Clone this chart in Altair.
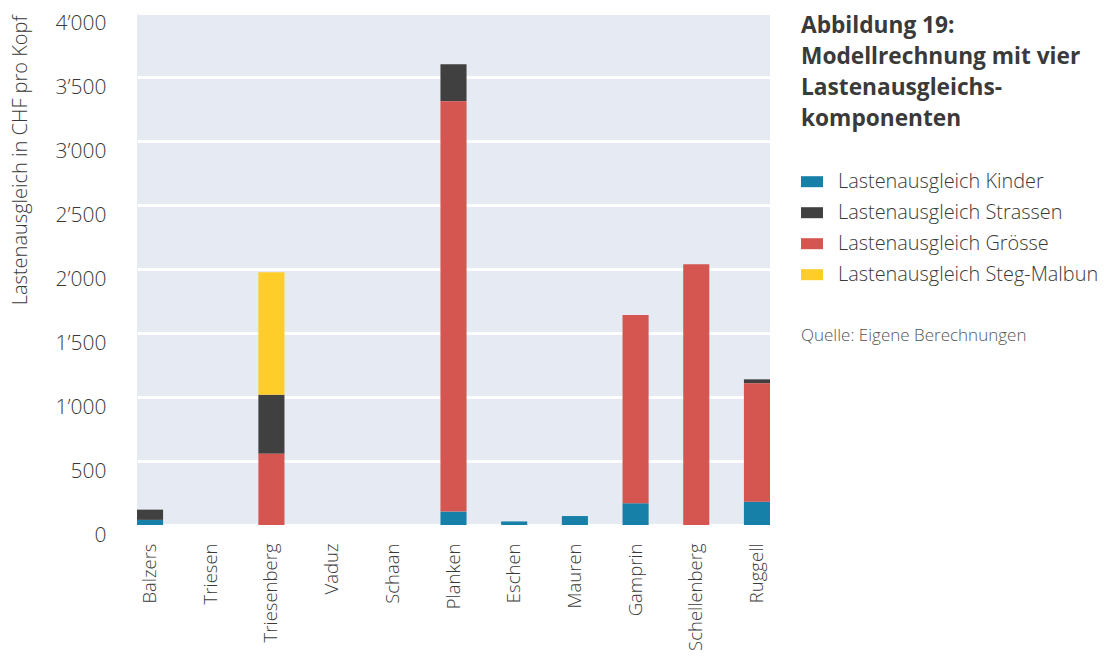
import altair as alt
import pandas as pd

# Gemeinden (x categories)
gemeinden = ["Balzers", "Triesen", "Triesenberg", "Vaduz", "Schaan", "Planken",
             "Eschen", "Mauren", "Gamprin", "Schellenberg", "Ruggell"]

# Components in CHF per head
kinder = [40, 0, 0, 0, 0, 105, 28, 70, 170, 0, 182]
groesse = [0, 0, 557, 0, 0, 3205, 0, 0, 1470, 2037, 925]
strassen = [80, 0, 461, 0, 0, 290, 0, 0, 0, 0, 31]
steg_malbun = [0, 0, 957, 0, 0, 0, 0, 0, 0, 0, 0]

series_names = ["Lastenausgleich Kinder", "Lastenausgleich Strassen",
                "Lastenausgleich Grösse", "Lastenausgleich Steg-Malbun"]
series_colors = ["#1680a9", "#404040", "#d55550", "#ffcd2a"]
# stacking order from the baseline upward
stack_rank = {"Lastenausgleich Kinder": 0, "Lastenausgleich Grösse": 1,
              "Lastenausgleich Strassen": 2, "Lastenausgleich Steg-Malbun": 3}

values_by_series = {
    "Lastenausgleich Kinder": kinder,
    "Lastenausgleich Strassen": strassen,
    "Lastenausgleich Grösse": groesse,
    "Lastenausgleich Steg-Malbun": steg_malbun,
}

rows = []
for name, vals in values_by_series.items():
    for g, v in zip(gemeinden, vals):
        rows.append({"Gemeinde": g, "Komponente": name, "Wert": v,
                     "rank": stack_rank[name]})
df = pd.DataFrame(rows)

FONT = "Open Sans"
TXT = "#3a3a3a"

bars = alt.Chart(df).mark_bar().encode(
    x=alt.X("Gemeinde:N", sort=gemeinden,
            scale=alt.Scale(paddingInner=0.57, paddingOuter=0),
            axis=alt.Axis(title=None, labelAngle=270, labelAlign="right",
                          labelBaseline="middle", labelPadding=18,
                          labelFontSize=18.5, labelColor=TXT, labelFont=FONT,
                          labelFontWeight=300,
                          ticks=False, domain=False, grid=False)),
    y=alt.Y("Wert:Q", stack="zero",
            scale=alt.Scale(domain=[0, 4000], nice=False),
            axis=alt.Axis(values=[0, 500, 1000, 1500, 2000, 2500, 3000, 3500, 4000],
                          labelExpr="replace(format(datum.value, ','), ',', '’')",
                          title="Lastenausgleich in CHF pro Kopf",
                          titleFont=FONT, titleFontSize=20, titleFontWeight=300,
                          titleColor=TXT, titleAngle=270, titleAlign="right",
                          titleBaseline="middle", titleX=-117, titleY=2,
                          labelFont=FONT, labelFontSize=21, labelColor=TXT,
                          labelFontWeight=300,
                          labelPadding=31, labelOffset=10,
                          ticks=False, domain=False,
                          grid=True, gridColor="white", gridWidth=3)),
    color=alt.Color("Komponente:N",
                    scale=alt.Scale(domain=series_names, range=series_colors),
                    legend=alt.Legend(
                        title=["Abbildung 19:", "Modellrechnung mit vier",
                               "Lastenausgleichs-", "komponenten"],
                        titleFont=FONT, titleFontSize=22.7, titleFontWeight="bold",
                        titleColor="#3a3a3a", titleLineHeight=31,
                        titlePadding=40, titleBaseline="top", titleLimit=400,
                        orient="none", legendX=664, legendY=2,
                        symbolType="M-1,-0.5H1V0.5H-1Z", symbolSize=484,
                        symbolStrokeWidth=0, symbolOpacity=1,
                        labelFont=FONT, labelFontSize=19.9, labelColor=TXT,
                        labelFontWeight=300,
                        labelOffset=15, rowPadding=10, labelLimit=400)),
    order=alt.Order("rank:Q", sort="ascending"),
)

quelle = alt.Chart(pd.DataFrame({"t": ["Quelle: Eigene Berechnungen"]})).mark_text(
    align="left", baseline="middle", font=FONT, fontSize=17, fontWeight=300,
    color="#555555"
).encode(text="t:N", x=alt.value(664), y=alt.value(323))

chart = alt.layer(bars, quelle).properties(
    width=633, height=512,
    padding={"left": 137, "top": 13, "right": 334, "bottom": 133},
    autosize="none",
    background="white",
).configure_view(fill="#e6ebf3", strokeWidth=0)

chart.save("out.html", embed_options={"renderer": "svg", "actions": False})
